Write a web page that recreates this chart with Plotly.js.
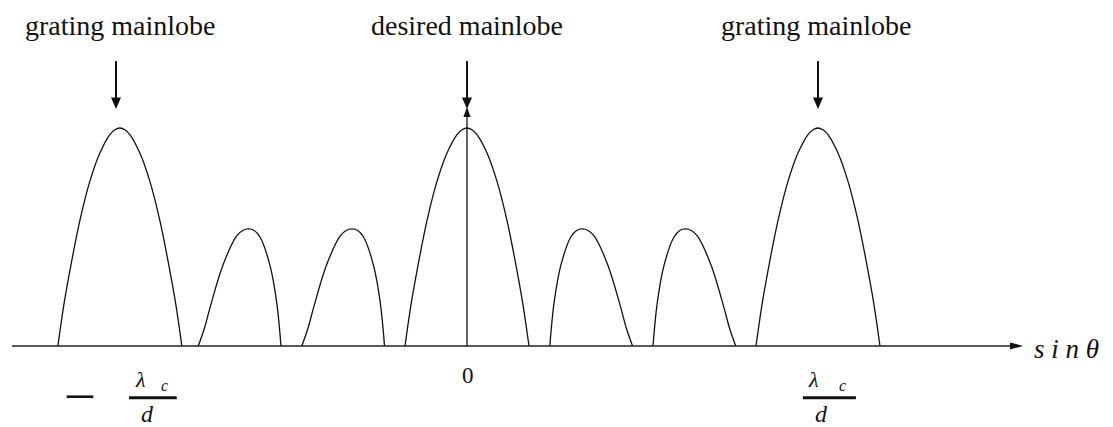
<!DOCTYPE html>
<html>
<head>
<meta charset="utf-8">
<script src="https://cdn.plot.ly/plotly-3.0.1.min.js"></script>
</head>
<body style="margin:0">
<div id="chart" style="width:1113px;height:427px"></div>
<script>
// Array-factor sketch: main lobe at 0, grating lobes at ±λc/d, sidelobes in between.
// Horizontal unit: λc/d = 1.  Vertical unit: mainlobe peak = 1.

// Shape of a mainlobe: offset from its centre and relative level
const mainProfileX = [-0.1766, -0.1595, -0.1425, -0.114, -0.0855, -0.057, -0.0285, -0.0142, 0,
                      0.0142, 0.0285, 0.057, 0.0855, 0.114, 0.1425, 0.1595, 0.1766];
const mainProfileY = [0, 0.19, 0.345, 0.575, 0.755, 0.885, 0.97, 0.992, 1,
                      0.992, 0.97, 0.885, 0.755, 0.575, 0.345, 0.19, 0];

// Shape of a sidelobe (leaning towards the mainlobe on its right)
const sideProfileX = [-0.1436, -0.1254, -0.1103, -0.0724, -0.0342, -0.0171, 0,
                      0.0157, 0.0322, 0.0607, 0.0798, 0.092];
const sideProfileY = [0, 0.085, 0.175, 0.375, 0.505, 0.53, 0.537,
                      0.53, 0.50, 0.37, 0.20, 0];

// Lobe positions in sinθ
const mainCenters = [-0.989, 0, 1];
const sideCenters = [-0.622, -0.327, 0.328, 0.622];
const sideLean    = [1, 1, -1, -1];   // -1 mirrors the lobe

// Labels
const topLabels   = ["grating mainlobe", "desired mainlobe", "grating mainlobe"];
const topLabelX   = [-0.986, 0.001, 0.997];
const arrowX      = [-1, 0, 1];
const zeroLabel   = "0";
const axisLabel   = "s i n θ";

const X_RANGE = [-1.3305, 1.8405];
const Y_RANGE = [-0.3716, 1.5872];

const INK = "#111111";
const SERIF = "Liberation Serif";

const traces = [];
mainCenters.forEach(c => {
  traces.push({
    type: "scatter", mode: "lines",
    x: mainProfileX.map(o => c + o), y: mainProfileY.slice(),
    line: { color: INK, width: 1.3, shape: "spline", smoothing: 1 },
    hoverinfo: "skip", showlegend: false
  });
});
sideCenters.forEach((c, i) => {
  traces.push({
    type: "scatter", mode: "lines",
    x: sideProfileX.map(o => c + sideLean[i] * o), y: sideProfileY.slice(),
    line: { color: INK, width: 1.3, shape: "spline", smoothing: 1 },
    hoverinfo: "skip", showlegend: false
  });
});

const shapes = [];
function addLine(x0, y0, x1, y1, w, col) {
  shapes.push({ type: "line", xref: "x", yref: "y", x0: x0, y0: y0, x1: x1, y1: y1,
                line: { color: col || INK, width: w } });
}
// filled arrow head, drawn in pixels around its tip
function addHead(x, y, path) {
  shapes.push({ type: "path", xref: "x", yref: "y",
                xsizemode: "pixel", ysizemode: "pixel", xanchor: x, yanchor: y,
                path: path, fillcolor: INK, line: { width: 0 } });
}

// sinθ axis with arrow
addLine(-1.2963, 0, 1.547, 0, 1.5, "#222222");
addHead(1.584, 0, "M0,0 L-13,3.6 L-13,-3.6 Z");
// vertical axis through 0
addLine(0, 0, 0, 1.0505, 1.3);
addHead(0, 1.0963, "M0,0 L-3.6,-10 L3.6,-10 Z");
// pointer arrows above the mainlobes
arrowX.forEach(x => {
  addLine(x, 1.307, x, 1.138, 2);
  addHead(x, 1.0872, "M0,0 L-5,11.5 L5,11.5 Z");
});
// fraction bars and minus sign
addLine(0.957, -0.2372, 1.108, -0.2372, 3);
addLine(-0.963, -0.2372, -0.827, -0.2372, 3);
addLine(-1.1405, -0.2326, -1.0647, -0.2326, 2.6);

const annotations = [];
function addText(text, x, y, size, italic) {
  const font = { family: SERIF, size: size, color: INK };
  if (italic) font.style = "italic";
  annotations.push({ text: text, x: x, y: y, xref: "x", yref: "y", showarrow: false,
                     xanchor: "center", yanchor: "middle", font: font });
}
topLabels.forEach((t, i) => addText(t, topLabelX[i], 1.4725, 28));
addText(zeroLabel, 0.003, -0.1376, 23);
addText(axisLabel, 1.709, -0.014, 27, true);
// λc/d on the right
addText("λ", 0.9858, -0.1537, 22, true);
addText("c", 1.0698, -0.1817, 16, true);
addText("d", 1.01, -0.3119, 24, true);
// −λc/d on the left
addText("λ", -0.9293, -0.1537, 22, true);
addText("c", -0.8632, -0.1817, 16, true);
addText("d", -0.9103, -0.3119, 24, true);

const layout = {
  width: 1113, height: 427,
  margin: { l: 0, r: 0, t: 0, b: 0, pad: 0 },
  paper_bgcolor: "#ffffff", plot_bgcolor: "#ffffff",
  font: { family: SERIF, color: INK },
  xaxis: { range: X_RANGE, visible: false, fixedrange: true },
  yaxis: { range: Y_RANGE, visible: false, fixedrange: true },
  shapes: shapes, annotations: annotations, showlegend: false
};

Plotly.newPlot("chart", traces, layout, { staticPlot: true, displayModeBar: false });
</script>
</body>
</html>
